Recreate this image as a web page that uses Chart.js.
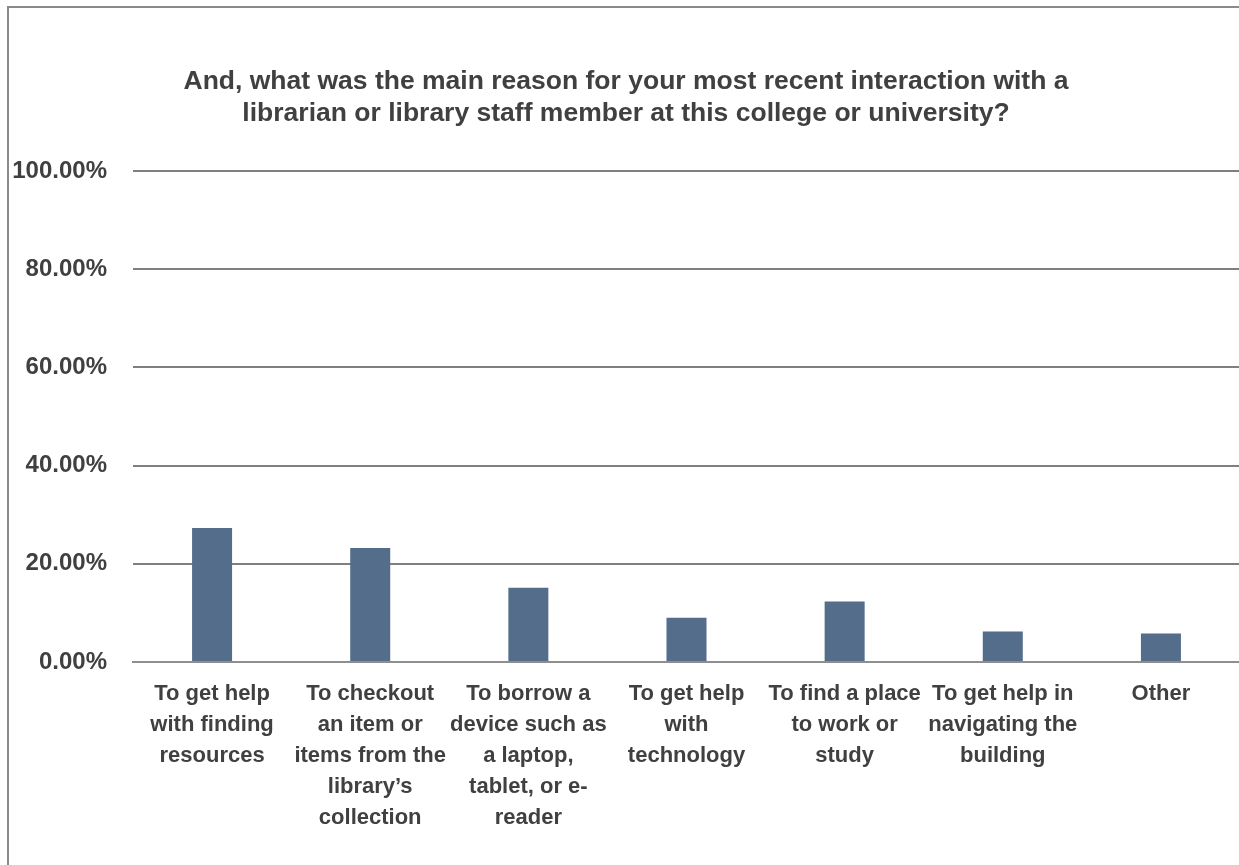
<!DOCTYPE html>
<html>
<head>
<meta charset="utf-8">
<script src="https://cdn.jsdelivr.net/npm/chart.js@4/dist/chart.umd.min.js"></script>
<style>
  html, body { margin: 0; padding: 0; background: #fff; overflow: hidden; width: 1239px; height: 865px; }
  #wrap { position: absolute; left: 0; top: 0; width: 1245px; height: 865px; }
  #frame { position: absolute; left: 7px; top: 6px; width: 1400px; height: 1000px;
           border-left: 2px solid #8a8a8a; border-top: 2px solid #8a8a8a; pointer-events: none; }
</style>
</head>
<body>
<div id="wrap"><canvas id="c" width="1245" height="865"></canvas></div>
<div id="frame"></div>
<script>
const titleLines = [
  "And, what was the main reason for your most recent interaction with a",
  "librarian or library staff member at this college or university?"
];
const categories = [
  ["To get help", "with finding", "resources"],
  ["To checkout", "an item or", "items from the", "library’s", "collection"],
  ["To borrow a", "device such as", "a laptop,", "tablet, or e-", "reader"],
  ["To get help", "with", "technology"],
  ["To find a place", "to work or", "study"],
  ["To get help in", "navigating the", "building"],
  ["Other"]
];
const values = [27.3, 23.2, 15.1, 9.0, 12.3, 6.2, 5.8];
const yTicks = [0, 20, 40, 60, 80, 100];

const FONT = '"Liberation Sans Narrow", "Arial Narrow", "Liberation Sans", Arial, sans-serif';
const TEXT = '#404040';

new Chart(document.getElementById('c'), {
  type: 'bar',
  data: {
    labels: categories,
    datasets: [{
      data: values,
      backgroundColor: '#536d8a',
      borderWidth: 0,
      categoryPercentage: 1.0,
      barPercentage: 0.253
    }]
  },
  options: {
    responsive: false,
    animation: false,
    layout: { padding: { left: 12, right: 5, top: 0, bottom: 0 } },
    plugins: {
      legend: { display: false },
      tooltip: { enabled: false },
      title: {
        display: true,
        text: titleLines,
        color: TEXT,
        font: { family: FONT, size: 26.5, weight: 'bold', lineHeight: 1.2075 },
        padding: { top: 66, bottom: 41 }
      }
    },
    scales: {
      x: {
        grid: { display: false, drawTicks: false },
        border: { display: true, color: '#8e8e8e', width: 2 },
        ticks: {
          color: TEXT,
          autoSkip: false,
          maxRotation: 0,
          minRotation: 0,
          padding: 17,
          font: { family: FONT, size: 22, weight: 'bold', lineHeight: 1.4 }
        },
        afterFit: (s) => { s.height = 203; }
      },
      y: {
        min: 0,
        max: 100,
        afterBuildTicks: (s) => { s.ticks = yTicks.map(v => ({ value: v })); },
        grid: { color: '#7f7f7f', lineWidth: 2, drawTicks: false },
        border: { display: false },
        ticks: {
          color: TEXT,
          padding: 26,
          font: { family: FONT, size: 24, weight: 'bold' },
          callback: (v) => Number(v).toFixed(2) + '%'
        },
        afterFit: (s) => { s.width = 121; }
      }
    }
  }
});
</script>
</body>
</html>
